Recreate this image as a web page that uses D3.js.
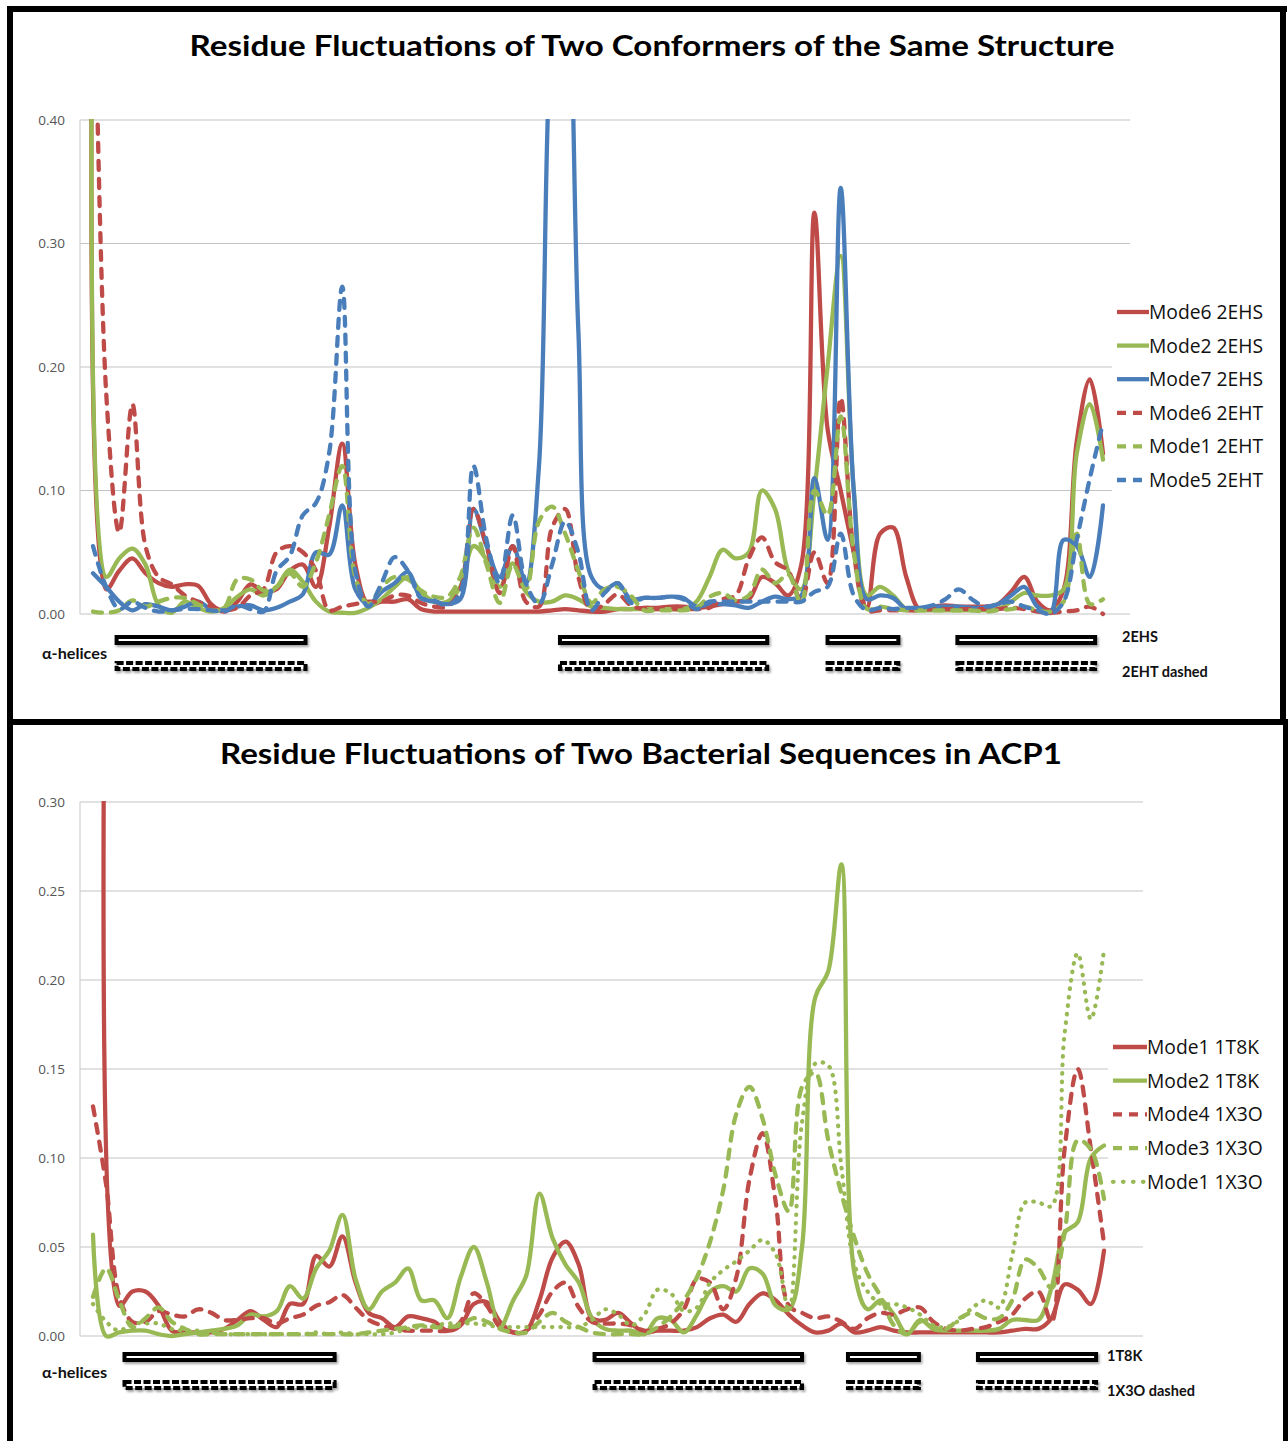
<!DOCTYPE html>
<html><head><meta charset="utf-8">
<script src="https://cdn.jsdelivr.net/npm/d3@7"></script>
<style>body{margin:0;background:#fff}</style>
</head><body><svg id="c" width="1288" height="1441"></svg>
<script>
// ---------------- DATA ----------------
const residues = d3.range(78);
const topTicks = [0, 0.1, 0.2, 0.3, 0.4];
const botTicks = [0, 0.05, 0.1, 0.15, 0.2, 0.25, 0.3];
const topTitle = "Residue Fluctuations of Two Conformers of the Same Structure";
const botTitle = "Residue Fluctuations of Two Bacterial Sequences in ACP1";
const topNames = ["Mode6 2EHS", "Mode2 2EHS", "Mode7 2EHS", "Mode6 2EHT", "Mode1 2EHT", "Mode5 2EHT"];
const botNames = ["Mode1 1T8K", "Mode2 1T8K", "Mode4 1X3O", "Mode3 1X3O", "Mode1 1X3O"];
const topRowLabels = ["2EHS", "2EHT dashed"];
const botRowLabels = ["1T8K", "1X3O dashed"];
const helicesTop = [[1.8, 16.2], [35.6, 51.4], [56.0, 61.4], [65.9, 76.4]];
const helicesBottom = [[2.4, 18.4], [38.2, 54.0], [57.5, 62.9], [67.4, 76.4]];

const m6_2EHS = [
0.60, 0.02, 0.035, 0.045, 0.033, 0.025, 0.022, 0.024, 0.023, 0.008,
0.002, 0.01, 0.024, 0.018, 0.02, 0.035, 0.04, 0.022, 0.07, 0.138,
0.04, 0.008, 0.01, 0.01, 0.012, 0.004, 0.002, 0.002, 0.002, 0.002,
0.002, 0.002, 0.002, 0.002, 0.002, 0.003, 0.004, 0.003, 0.002, 0.002,
0.004, 0.004, 0.005, 0.005, 0.006, 0.006, 0.005, 0.006, 0.008, 0.01,
0.012, 0.03, 0.025, 0.015, 0.04, 0.325, 0.15, 0.1, 0.05, 0.005,
0.065, 0.07, 0.03, 0.004, 0.006, 0.007, 0.006, 0.006, 0.006, 0.008,
0.018, 0.03, 0.01, 0.003, 0.02, 0.14, 0.19, 0.13];
const m2_2EHS = [
0.60, 0.03, 0.045, 0.053, 0.04, 0.007, 0.001, 0.01, 0.005, 0.002,
0.005, 0.014, 0.02, 0.015, 0.022, 0.036, 0.026, 0.01, 0.002, 0.001,
0.001, 0.005, 0.012, 0.022, 0.03, 0.018, 0.01, 0.01, 0.022, 0.055,
0.044, 0.022, 0.041, 0.018, 0.01, 0.01, 0.015, 0.012, 0.006, 0.005,
0.004, 0.004, 0.004, 0.004, 0.004, 0.004, 0.01, 0.03, 0.052, 0.045,
0.05, 0.1, 0.085, 0.035, 0.02, 0.1, 0.2, 0.29, 0.1, 0.015,
0.022, 0.015, 0.004, 0.003, 0.003, 0.003, 0.003, 0.003, 0.003, 0.004,
0.01, 0.017, 0.015, 0.015, 0.02, 0.13, 0.17, 0.125];
const m7_2EHS = [
0.033, 0.022, 0.01, 0.003, 0.008, 0.006, 0.003, 0.006, 0.01, 0.004,
0.003, 0.006, 0.007, 0.003, 0.005, 0.01, 0.016, 0.05, 0.048, 0.088,
0.02, 0.008, 0.018, 0.025, 0.034, 0.013, 0.01, 0.008, 0.012, 0.085,
0.055, 0.03, 0.055, 0.025, 0.12, 0.48, 0.55, 0.23, 0.03, 0.02,
0.025, 0.012, 0.013, 0.013, 0.014, 0.013, 0.006, 0.008, 0.008, 0.007,
0.005, 0.01, 0.014, 0.012, 0.015, 0.11, 0.06, 0.345, 0.1, 0.012,
0.015, 0.013, 0.004, 0.005, 0.006, 0.006, 0.006, 0.005, 0.005, 0.008,
0.015, 0.022, 0.006, 0.001, 0.06, 0.055, 0.03, 0.088];
const m6_2EHT = [
0.60, 0.18, 0.066, 0.17, 0.055, 0.03, 0.024, 0.015, 0.01, 0.006,
0.003, 0.005, 0.015, 0.02, 0.05, 0.055, 0.05, 0.035, 0.003, 0.006,
0.008, 0.01, 0.01, 0.015, 0.015, 0.009, 0.006, 0.006, 0.02, 0.085,
0.055, 0.017, 0.055, 0.01, 0.006, 0.07, 0.085, 0.03, 0.003, 0.008,
0.016, 0.007, 0.004, 0.004, 0.004, 0.004, 0.004, 0.005, 0.012, 0.015,
0.045, 0.062, 0.042, 0.035, 0.01, 0.05, 0.025, 0.175, 0.05, 0.003,
0.003, 0.003, 0.003, 0.003, 0.004, 0.004, 0.004, 0.004, 0.004, 0.004,
0.005, 0.004, 0.002, 0.001, 0.002, 0.003, 0.006, 0.0];
const m1_2EHT = [
0.002, 0.001, 0.003, 0.011, 0.006, 0.01, 0.013, 0.013, 0.008, 0.003,
0.005, 0.028, 0.028, 0.019, 0.022, 0.033, 0.022, 0.042, 0.08, 0.12,
0.03, 0.008, 0.022, 0.03, 0.028, 0.019, 0.014, 0.014, 0.03, 0.07,
0.04, 0.009, 0.04, 0.02, 0.075, 0.087, 0.065, 0.035, 0.009, 0.02,
0.022, 0.015, 0.003, 0.003, 0.003, 0.003, 0.005, 0.014, 0.017, 0.011,
0.015, 0.036, 0.025, 0.032, 0.008, 0.1, 0.08, 0.16, 0.05, 0.004,
0.006, 0.004, 0.003, 0.003, 0.003, 0.003, 0.003, 0.003, 0.002, 0.003,
0.004, 0.006, 0.003, 0.002, 0.01, 0.065, 0.008, 0.012];
const m5_2EHT = [
0.055, 0.022, 0.004, 0.01, 0.005, 0.002, 0.003, 0.004, 0.004, 0.003,
0.002, 0.007, 0.004, 0.002, 0.035, 0.047, 0.08, 0.09, 0.13, 0.265,
0.035, 0.006, 0.025, 0.046, 0.035, 0.013, 0.011, 0.007, 0.017, 0.12,
0.06, 0.025, 0.08, 0.025, 0.008, 0.04, 0.075, 0.05, 0.003, 0.017,
0.025, 0.009, 0.013, 0.013, 0.014, 0.012, 0.004, 0.01, 0.01, 0.01,
0.01, 0.01, 0.01, 0.01, 0.01, 0.018, 0.022, 0.065, 0.015, 0.003,
0.005, 0.004, 0.005, 0.005, 0.007, 0.012, 0.02, 0.012, 0.006, 0.008,
0.01, 0.006, 0.003, 0.0, 0.01, 0.06, 0.11, 0.155];

const m1_1T8K = [
null, 0.45, 0.017, 0.025, 0.025, 0.017, 0.003, 0.002, 0.002, 0.002,
0.004, 0.009, 0.014, 0.009, 0.005, 0.018, 0.018, 0.045, 0.039, 0.056,
0.03, 0.013, 0.01, 0.005, 0.011, 0.01, 0.008, 0.003, 0.006, 0.018,
0.019, 0.008, 0.002, 0.003, 0.02, 0.044, 0.053, 0.04, 0.01, 0.009,
0.013, 0.007, 0.002, 0.003, 0.003, 0.003, 0.005, 0.01, 0.012, 0.008,
0.018, 0.024, 0.02, 0.012, 0.006, 0.002, 0.003, 0.007, 0.002, 0.003,
0.005, 0.003, 0.002, 0.002, 0.002, 0.002, 0.002, 0.002, 0.002, 0.002,
0.003, 0.004, 0.004, 0.01, 0.029, 0.026, 0.018, 0.048];
const m2_1T8K = [
0.057, 0.0, 0.002, 0.003, 0.003, 0.001, 0.0, 0.001, 0.002, 0.003,
0.004, 0.006, 0.012, 0.011, 0.014, 0.028, 0.021, 0.038, 0.048, 0.068,
0.032, 0.015, 0.025, 0.03, 0.038, 0.02, 0.02, 0.01, 0.033, 0.05,
0.03, 0.005, 0.02, 0.034, 0.08, 0.055, 0.04, 0.03, 0.01, 0.004,
0.003, 0.003, 0.001, 0.01, 0.009, 0.002, 0.012, 0.025, 0.028, 0.025,
0.038, 0.035, 0.017, 0.015, 0.05, 0.19, 0.205, 0.265, 0.035, 0.015,
0.02, 0.012, 0.001, 0.009, 0.004, 0.003, 0.003, 0.003, 0.003, 0.004,
0.009, 0.009, 0.009, 0.027, 0.058, 0.064, 0.1, 0.107];
const m4_1X3O = [
0.129, 0.085, 0.022, 0.008, 0.008, 0.014, 0.012, 0.011, 0.015, 0.013,
0.009, 0.009, 0.01, 0.01, 0.007, 0.01, 0.012, 0.017, 0.019, 0.023,
0.016, 0.009, 0.006, 0.004, 0.003, 0.003, 0.003, 0.003, 0.008, 0.024,
0.017, 0.005, 0.002, 0.003, 0.012, 0.025, 0.03, 0.016, 0.008, 0.007,
0.007, 0.006, 0.003, 0.004, 0.007, 0.015, 0.032, 0.03, 0.015, 0.033,
0.088, 0.114, 0.075, 0.017, 0.013, 0.01, 0.011, 0.008, 0.004, 0.01,
0.013, 0.012, 0.015, 0.016, 0.008, 0.004, 0.003, 0.004, 0.005, 0.008,
0.012, 0.021, 0.025, 0.008, 0.105, 0.15, 0.105, 0.052];
const m3_1X3O = [
0.022, 0.038, 0.02, 0.005, 0.01, 0.016, 0.008, 0.004, 0.001, 0.001,
0.001, 0.001, 0.001, 0.001, 0.001, 0.001, 0.001, 0.001, 0.001, 0.001,
0.001, 0.002, 0.003, 0.004, 0.005, 0.006, 0.005, 0.005, 0.006, 0.01,
0.008, 0.004, 0.002, 0.002, 0.008, 0.013, 0.008, 0.005, 0.002, 0.001,
0.001, 0.001, 0.001, 0.005, 0.011, 0.02, 0.033, 0.053, 0.082, 0.125,
0.14, 0.122, 0.09, 0.07, 0.14, 0.148, 0.11, 0.08, 0.055, 0.035,
0.022, 0.006, 0.001, 0.008, 0.005, 0.004, 0.01, 0.013, 0.01, 0.01,
0.02, 0.043, 0.038, 0.027, 0.058, 0.11, 0.105, 0.077];
const m1_1X3O = [
0.018, 0.008, 0.003, 0.007, 0.007, 0.007, 0.004, 0.003, 0.003, 0.002,
0.001, 0.001, 0.001, 0.001, 0.001, 0.001, 0.001, 0.002, 0.001, 0.002,
0.001, 0.001, 0.001, 0.002, 0.004, 0.005, 0.006, 0.007, 0.007, 0.007,
0.006, 0.005, 0.005, 0.005, 0.005, 0.005, 0.005, 0.005, 0.009, 0.015,
0.012, 0.006, 0.012, 0.026, 0.024, 0.014, 0.016, 0.03, 0.037, 0.042,
0.048, 0.054, 0.046, 0.014, 0.12, 0.153, 0.152, 0.095, 0.04, 0.025,
0.018, 0.018, 0.016, 0.012, 0.006, 0.005, 0.009, 0.016, 0.02, 0.016,
0.045, 0.075, 0.075, 0.073, 0.17, 0.215, 0.178, 0.217];

// ---------------- STYLE ----------------
const RED = "#BE4B48", GREEN = "#98B954", BLUE = "#4A7EBB";
const STYLE = {
  solid: {dash: null, cap: "round"},
  dashed: {dash: "9,9", cap: "round"},
  dotted: {dash: "0.5,8", cap: "round"}
};

const svg = d3.select("#c");
svg.append("rect").attr("width", 1288).attr("height", 1441).attr("fill", "#fff");

const defs = svg.append("defs");
const f = defs.append("filter").attr("id", "shadow").attr("x", "-5%").attr("y", "-80%").attr("width", "110%").attr("height", "260%");
f.append("feDropShadow").attr("dx", 1.5).attr("dy", 2).attr("stdDeviation", 1.2).attr("flood-color", "#000").attr("flood-opacity", 0.35);

function panel(cfg) {
  const x = d3.scaleLinear().domain([0, residues.length - 1]).range([cfg.x0, cfg.x1]);
  const y = d3.scaleLinear().domain([0, cfg.ymax]).range([cfg.yb, cfg.yt]);
  const g = svg.append("g");

  g.selectAll("line.grid").data(cfg.ticks).join("line")
    .attr("x1", cfg.axisX).attr("x2", cfg.gridEnd)
    .attr("y1", d => y(d)).attr("y2", d => y(d))
    .attr("stroke", "#C4C4C4").attr("stroke-width", 1.2);
  g.append("line").attr("x1", cfg.axisX).attr("x2", cfg.axisX)
    .attr("y1", y(cfg.ymax)).attr("y2", y(0)).attr("stroke", "#D0D0D0").attr("stroke-width", 1.2);

  const ax = g.append("g").attr("transform", `translate(${cfg.axisX},0)`)
    .call(d3.axisLeft(y).tickValues(cfg.ticks).tickFormat(d3.format(".2f")).tickSize(0).tickPadding(15));
  ax.select(".domain").remove();
  ax.selectAll("text").attr("font-family", "'Open Sans', sans-serif").attr("font-size", 13.5).attr("fill", "#555");

  const cid = "clip" + cfg.id;
  defs.append("clipPath").attr("id", cid).append("rect")
    .attr("x", cfg.axisX).attr("y", cfg.yt - 1).attr("width", cfg.gridEnd - cfg.axisX).attr("height", cfg.yb - cfg.yt + 12);

  const line = d3.line().defined(d => d != null)
    .x((d, i) => x(i)).y(d => y(d)).curve(d3.curveCatmullRom.alpha(0.5));

  const lg = g.append("g").attr("clip-path", `url(#${cid})`);
  cfg.series.forEach(s => {
    const st = STYLE[s.style];
    lg.append("path").attr("d", line(s.values)).attr("fill", "none")
      .attr("stroke", s.color).attr("stroke-width", s.style === "dotted" ? 4.2 : 4.3)
      .attr("stroke-linejoin", "round").attr("stroke-linecap", st.cap)
      .attr("stroke-dasharray", st.dash);
  });

  const L = cfg.legend;
  g.append("rect").attr("x", L.boxX).attr("y", L.boxY).attr("width", L.boxW).attr("height", L.boxH).attr("fill", "#fff");
  cfg.series.forEach((s, k) => {
    const yy = L.y0 + k * L.dy;
    g.append("line").attr("x1", L.lx0).attr("x2", L.lx1).attr("y1", yy).attr("y2", yy)
      .attr("stroke", s.color).attr("stroke-width", 4.3)
      .attr("stroke-linecap", s.style === "dotted" ? "round" : "butt")
      .attr("stroke-dasharray", s.style === "dashed" ? "9,7" : (s.style === "dotted" ? "0.5,9.5" : null));
    g.append("text").attr("x", L.tx).attr("y", yy).attr("dy", "0.36em")
      .attr("font-family", "'Open Sans', sans-serif").attr("font-size", 19.3).attr("fill", "#111")
      .text(s.name);
  });

  const hg = g.append("g").attr("filter", "url(#shadow)");
  cfg.helixRows.forEach(row => {
    hg.selectAll(null).data(cfg.helices).join("rect")
      .attr("x", d => x(d[0])).attr("width", d => x(d[1]) - x(d[0]))
      .attr("y", row.cy - 3).attr("height", 6)
      .attr("fill", "#fff").attr("stroke", "#000").attr("stroke-width", 4)
      .attr("stroke-dasharray", row.dashed ? "7,2.5" : null);
  });
  cfg.rowLabels.forEach((t, k) => {
    g.append("text").attr("x", cfg.rowLabelX).attr("y", cfg.helixRows[k].ly)
      .attr("font-family", "Lato, sans-serif").attr("font-weight", "bold").attr("font-size", 14.5)
      .attr("fill", "#111").text(t);
  });
  g.append("text").attr("x", 42).attr("y", cfg.alphaY)
    .attr("font-family", "Lato, sans-serif").attr("font-weight", "bold").attr("font-size", 16)
    .attr("textLength", 65).attr("lengthAdjust", "spacingAndGlyphs").attr("fill", "#111").text("α-helices");

  g.append("text").attr("x", cfg.titleX).attr("y", cfg.titleY).attr("text-anchor", "middle")
    .attr("font-family", "Lato, sans-serif").attr("font-weight", "bold").attr("font-size", 29)
    .attr("textLength", cfg.titleW).attr("lengthAdjust", "spacingAndGlyphs")
    .attr("fill", "#000").text(cfg.title);
}

panel({
  id: "top", title: topTitle, titleX: 652, titleY: 56, titleW: 925,
  x0: 93, x1: 1103, ymax: 0.4, yb: 614, yt: 120, axisX: 80, gridEnd: 1130, ticks: topTicks,
  series: [
    {name: topNames[0], values: m6_2EHS, color: RED, style: "solid"},
    {name: topNames[1], values: m2_2EHS, color: GREEN, style: "solid"},
    {name: topNames[2], values: m7_2EHS, color: BLUE, style: "solid"},
    {name: topNames[3], values: m6_2EHT, color: RED, style: "dashed"},
    {name: topNames[4], values: m1_2EHT, color: GREEN, style: "dashed"},
    {name: topNames[5], values: m5_2EHT, color: BLUE, style: "dashed"}
  ],
  legend: {boxX: 1112, boxY: 293, boxW: 166, boxH: 205, y0: 312, dy: 33.6, lx0: 1117, lx1: 1149, tx: 1149},
  helices: helicesTop,
  helixRows: [{cy: 640, dashed: false, ly: 642}, {cy: 666, dashed: true, ly: 677}],
  rowLabels: topRowLabels, rowLabelX: 1122, alphaY: 659
});

panel({
  id: "bot", title: botTitle, titleX: 641, titleY: 764, titleW: 842,
  x0: 93, x1: 1104, ymax: 0.3, yb: 1336, yt: 802, axisX: 80, gridEnd: 1143, ticks: botTicks,
  series: [
    {name: botNames[0], values: m1_1T8K, color: RED, style: "solid"},
    {name: botNames[1], values: m2_1T8K, color: GREEN, style: "solid"},
    {name: botNames[2], values: m4_1X3O, color: RED, style: "dashed"},
    {name: botNames[3], values: m3_1X3O, color: GREEN, style: "dashed"},
    {name: botNames[4], values: m1_1X3O, color: GREEN, style: "dotted"}
  ],
  legend: {boxX: 1108, boxY: 1028, boxW: 172, boxH: 172, y0: 1047, dy: 33.7, lx0: 1113, lx1: 1147, tx: 1147},
  helices: helicesBottom,
  helixRows: [{cy: 1357, dashed: false, ly: 1361}, {cy: 1385, dashed: true, ly: 1396}],
  rowLabels: botRowLabels, rowLabelX: 1107, alphaY: 1378
});

const frame = svg.append("g").attr("fill", "#000");
frame.append("rect").attr("x", 7).attr("y", 6).attr("width", 1280).attr("height", 6);
frame.append("rect").attr("x", 7).attr("y", 6).attr("width", 6).attr("height", 1435);
frame.append("rect").attr("x", 7).attr("y", 719).attr("width", 1280).attr("height", 6);
frame.append("rect").attr("x", 1280).attr("y", 6).attr("width", 6).attr("height", 719);
frame.append("rect").attr("x", 1283).attr("y", 719).attr("width", 5).attr("height", 722);
</script>
</body></html>
